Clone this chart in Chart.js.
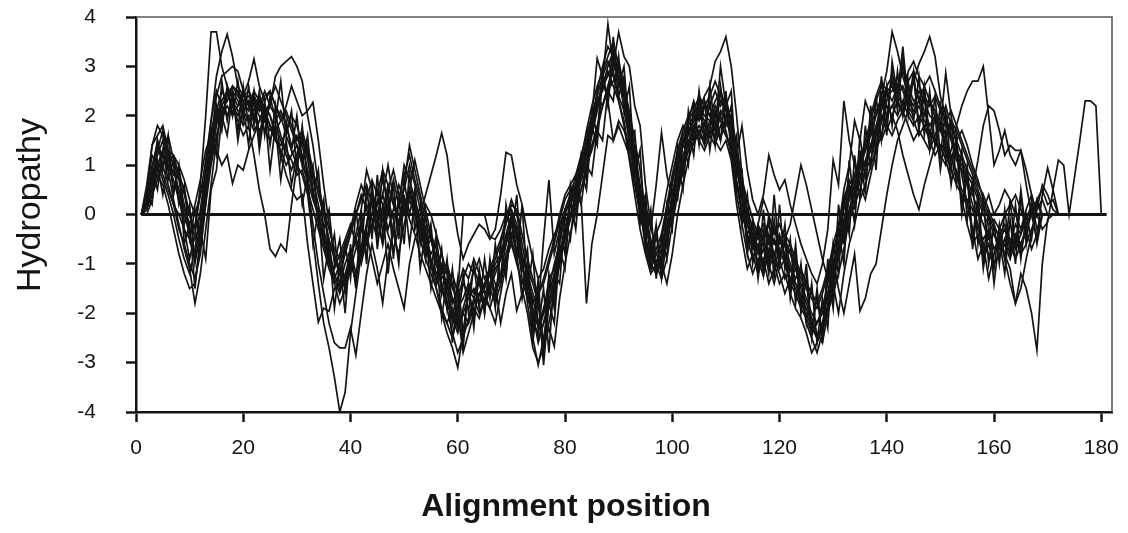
<!DOCTYPE html>
<html>
<head>
<meta charset="utf-8">
<script src="https://cdn.jsdelivr.net/npm/chart.js@4.4.1/dist/chart.umd.min.js"></script>
<style>
  html, body { margin: 0; padding: 0; background: #fff; }
  #wrap { width: 1128px; height: 533px; }
</style>
</head>
<body>
<div id="wrap"><canvas id="chart" width="1128" height="533"></canvas></div>
<script>
// ── Hydropathy profiles, one value per alignment position (from 1) ──
const hydA = [
  0, 0.4, 1.4, 1.6, 1.8, 1.3, 1.0, 0.4, -0.3, -0.9,
  -0.4, 0.6, 2.0, 3.7, 3.7, 3.0, 2.6, 2.4, 2.5, 2.1,
  2.3, 2.0, 1.7, 1.9, 2.2, 2.8, 3.0, 3.1, 3.2, 3.0,
  2.7, 2.0, 1.4, 0.6, 0.1, -0.6, -1.3, -1.6, -1.2, -0.8,
  -0.5, -0.9, -0.3, 0.4, 0.0, -0.6, 0.1, 0.7, 0.2, 0.5,
  1.0, 0.6, 0.1, -0.4, -0.9, -1.2, -1.0, -1.6, -2.0, -2.3,
  -1.9, -1.5, -1.7, -1.3, -1.6, -1.9, -1.5, -1.2, -0.6, -0.2,
  -0.4, -1.0, -1.5, -2.2, -2.4, -2.0, -1.3, -1.1, -0.5, 0.1,
  0.3, 0.5, 0.9, 1.4, 1.9, 2.5, 3.0, 3.4, 3.2, 2.7,
  2.2, 1.7, 1.0, 0.3, -0.6, -1.0, -1.2, -0.8, 0.0, 0.6,
  1.2, 1.6, 1.9, 2.3, 2.0, 1.8, 2.2, 2.5, 2.2, 2.4,
  1.8, 1.0, 0.3, -0.5, -0.9, -0.6, -1.0, -0.4, -0.8, -1.1,
  -0.9, -1.3, -1.5, -1.8, -2.0, -2.3, -2.5, -2.2, -1.6, -1.1,
  -0.7, 0.2, 0.6, 0.4, 0.9, 1.3, 1.6, 2.0, 2.4, 2.9,
  3.7, 3.3, 2.8, 2.4, 2.2, 2.5, 2.3, 2.0, 1.9, 1.7,
  1.9, 1.5, 1.1, 0.9, 0.6, 0.2, -0.2, -0.6, -0.8, -1.0,
  -0.8, -0.6, -0.9, -0.5, -0.7, -0.3, 0.0, 0.3, 0.5, 0.2,
  0.3, 0
];
const hydB = [
  0, 0.2, 0.6, 1.0, 1.3, 1.6, 1.1, 0.7, 0.2, -0.4,
  -0.8, -0.2, 0.9, 1.9, 2.8, 3.3, 3.65, 3.2, 2.6, 2.4,
  2.5, 2.3, 2.1, 2.4, 2.5, 2.2, 2.0, 1.6, 1.3, 1.0,
  0.8, 0.4, -0.5, -1.4, -2.2, -2.7, -3.3, -4.0, -3.6, -2.4,
  -1.6, -0.8, -0.2, 0.5, -0.1, -0.6, 0.2, -0.4, -0.8, -0.2,
  0.3, 0.0, -0.5, -0.9, -1.2, -1.5, -1.9, -2.2, -2.5, -2.0,
  -1.4, -1.6, -1.1, -1.4, -1.8, -1.4, -1.0, -0.8, -0.4, 0.0,
  -0.3, -0.9, -1.8, -2.5, -3.05, -2.5, -1.8, -1.3, -0.8, -0.3,
  0.2, 0.5, 0.8, 1.2, 1.7, 2.2, 2.7, 3.86, 3.0, 2.8,
  2.4, 1.8, 1.1, 0.5, -0.2, -0.7, -1.0, -0.5, 0.1, 0.7,
  1.1, 1.5, 1.8, 2.0, 1.6, 1.5, 1.8, 2.1, 1.9, 1.6,
  1.3, 0.6, 0.0, -0.4, -0.7, -0.2, -0.5, -0.1, -0.3, -0.6,
  -0.5, -0.8, -1.1, -1.5, -1.8, -2.1, -2.4, -2.6, -2.0, -1.3,
  -0.8, -0.3, 0.1, 0.5, 0.8, 1.0, 1.4, 1.7, 2.1, 2.5,
  2.6, 2.3, 2.1, 2.5, 2.7, 3.05, 3.3, 3.6, 3.2, 2.4,
  2.0, 1.6, 1.2, 1.0, 0.7, 0.4, 0.1, -0.2, -0.5, -0.4,
  -0.6, -0.8, -1.1, -1.8, -1.5, -0.9, -0.4, 0.1, 0.6, 0.4,
  0.1, 0
];
const hydC = [
  0, 0.3, 1.0, 1.4, 1.2, 0.9, 0.9, 0.5, 0.1, -0.2,
  0.2, 0.7, 1.3, 1.6, 1.9, 2.1, 2.0, 2.2, 1.9, 1.6,
  1.8, 1.2, 0.5, 0.0, -0.7, -0.85, -0.6, -0.75, 0.2, 1.0,
  1.5, 1.2, 0.8, 0.5, 0.1, -0.3, -0.7, -0.9, -0.6, -0.3,
  0.0, 0.3, 0.6, 0.2, -0.2, 0.1, 0.6, 0.2, 0.0, 0.0,
  0.0, 0.0, 0.0, 0.4, 0.8, 1.2, 1.65, 1.2, 0.3, -0.4,
  -0.9, -0.6, -0.4, -0.2, -0.3, -0.5, -0.3, 0.4, 1.26, 1.2,
  0.6, 0.2, -0.4, -0.9, -1.3, -1.1, -0.7, -0.4, -0.2, 0.1,
  0.4, 0.6, 0.3, -1.8, -0.6, 0.0, 0.8, 1.6, 1.5, 1.9,
  1.7, 1.4, 0.9, 0.5, 0.2, -0.3, 0.6, 1.66, 0.8, 0.3,
  0.9, 1.4, 1.7, 1.9, 2.2, 2.0, 1.9, 1.7, 2.1, 1.9,
  1.6, 1.2, 1.8, 0.9, 0.3, 0.0, 0.4, 1.2, 0.8, 0.5,
  0.7, 0.2, -0.2, -0.6, -0.9, -1.2, -1.4, -1.0, -0.3, 1.1,
  0.6, 2.3, 1.5, 1.0, 0.6, 0.3, 0.8, 1.3, 1.9, 2.2,
  2.0, 1.7, 1.2, 0.8, 0.4, 0.1, 0.6, 1.0, 1.4, 1.8,
  1.3, 0.9, 0.6, 0.4, 0.2, 0.5, 1.1, 1.8, 2.2, 2.1,
  1.7, 1.2, 1.4, 1.3, 1.3, 0.6, 0.0, -0.5, 0.4, 0.95,
  0.5, 1.1, 1.0, 0.0, 0.75, 1.5, 2.3, 2.3, 2.2, 0.0
];
const hydD = [
  0, 0.2, 0.5, 0.8, 0.6, 0.2, -0.3, -0.8, -1.2, -1.5,
  -1.4, -0.6, 0.4, 1.2, 1.9, 2.3, 2.5, 2.4, 2.2, 2.3,
  2.1, 2.4, 2.2, 1.9, 1.7, 1.9, 2.1, 1.8, 1.4, 1.6,
  1.2, 0.6, -0.2, -1.0, -1.6, -2.2, -2.6, -2.7, -2.7, -2.3,
  -2.85, -2.0, -1.2, -0.6, -1.1, -1.8, -0.9, -0.3, 0.3, 0.8,
  1.2, 0.7, 0.3, -0.4, -1.0, -1.5, -2.0, -2.4, -2.7, -3.1,
  -2.4, -2.2, -1.9, -2.1, -1.7, -1.9, -2.2, -1.6, -1.0, -0.5,
  -0.9, -1.5, -2.0, -2.7, -3.0, -2.7, -2.2, -1.6, -1.0, -0.5,
  -0.1, 0.3, 0.7, 1.1, 1.6, 2.1, 2.6, 3.0, 3.3, 3.1,
  2.6, 2.0, 1.3, 0.6, -0.1, -0.6, -1.0, -1.3, -0.9, -0.2,
  0.4, 0.9, 1.3, 1.6, 1.8, 1.6, 1.9, 2.2, 2.0, 1.7,
  1.2, 0.4, -0.2, -0.8, -1.2, -0.9, -1.25, -0.7, -1.0, -1.4,
  -1.2, -1.6, -1.9, -2.1, -2.4, -2.8, -2.6, -2.3, -1.9, -1.4,
  -2.0, -1.2, -0.6, -0.2, 0.3, 0.6, 1.0, 1.3, 1.6, 2.0,
  2.2, 2.4, 2.6, 2.3, 2.1, 2.3, 2.6, 2.3, 2.0, 1.8,
  2.87, 2.0, 1.4, 0.8, 0.2, -0.3, -0.9, -0.6, -1.3, -0.8,
  -0.4, -0.9, -1.4, -1.8, -1.2, -1.5, -2.0, -2.75, -1.0, -0.1,
  0
];
const hydE = [
  0, 0.5, 1.2, 1.0, 0.7, 0.4, 0.0, -0.5, -0.9, -1.2,
  -0.7, 0.1, 0.9, 1.7, 2.1, 2.5, 2.3, 2.6, 2.4, 2.2,
  2.3, 2.1, 2.4, 2.0, 2.3, 2.6, 2.3, 2.0, 1.7, 1.4,
  1.1, 1.4, 0.9, 0.4, 0.0, -0.5, -0.9, -1.2, -1.5, -1.1,
  -0.7, -0.3, 0.2, -0.1, -0.5, -0.1, 0.5, 0.9, 0.4, 0.0,
  0.4, 0.2, -0.3, -0.7, -0.5, -0.9, -1.3, -1.1, -1.5, -1.7,
  -1.3, -1.0, -1.2, -0.9, -1.3, -1.1, -0.8, -0.5, -0.1, 0.3,
  0.0, -0.6, -1.2, -1.6, -1.9, -0.5, 0.7, -0.8, -0.3, 0.1,
  0.4, 0.6, 0.9, 1.3, 1.8, 2.3, 2.5, 2.9, 2.6, 2.3,
  1.9, 1.2, 0.6, 0.0, -0.5, -0.9, -0.7, -0.4, 0.2, 0.8,
  1.3, 1.7, 2.0, 2.2, 1.9, 2.3, 2.0, 1.8, 1.5, 2.0,
  1.7, 1.0, 0.5, -0.1, -0.4, -0.8, -0.5, -0.2, -0.6, -0.4,
  -0.9, -0.7, -1.0, -1.3, -1.5, -1.7, -1.9, -1.6, -1.2, -0.6,
  -0.2, 0.3, 0.7, 0.5, 1.0, 1.4, 1.8, 2.1, 2.3, 2.0,
  2.2, 2.0, 2.3, 2.0, 1.8, 2.0, 1.8, 1.6, 1.5, 1.3,
  1.5, 1.2, 0.8, 0.5, 0.3, 0.1, -0.3, -0.5, -0.3, -0.7,
  -0.5, -0.3, -0.6, -0.2, -0.4, -0.1, 0.2, 0.1, 0.3, 0.0
];
const hydF = [
  0, 0.3, 0.7, 1.3, 1.7, 1.2, 0.8, 0.9, 0.4, 0.0,
  -0.5, -0.2, 0.6, 1.5, 2.4, 2.8, 2.9, 3.0, 2.9, 2.5,
  2.2, 2.5, 2.3, 2.2, 2.0, 1.7, 1.9, 2.2, 2.6, 2.3,
  2.0, 2.1, 2.27, 1.5, 0.6, -0.2, -0.8, -1.1, -1.4, -0.9,
  -0.4, 0.1, 0.9, 0.5, 0.0, 0.4, 1.0, 0.3, -0.2, 0.6,
  1.4, 0.9, 0.4, -0.1, -0.5, -1.0, -1.4, -1.8, -2.1, -2.4,
  -2.0, -1.7, -1.5, -1.8, -1.4, -1.2, -1.6, -1.3, -0.8, -0.4,
  -0.7, -1.1, -1.4, -1.7, -2.2, -2.0, -1.6, -1.2, -0.7, -0.4,
  0.0, 0.2, 0.5, 0.9, 1.4, 1.8, 2.2, 2.6, 3.0, 3.69,
  3.2, 3.0, 2.2, 1.8, 0.6, -0.2, -0.8, -1.0, -0.6, 0.1,
  0.7, 1.1, 1.4, 1.7, 2.1, 2.4, 2.6, 3.1, 3.3, 3.6,
  3.0, 2.0, 0.8, 0.0, -0.5, -0.3, -0.6, -1.0, -1.4, -0.9,
  -0.6, -1.0, -1.3, -1.1, -1.4, -1.6, -1.8, -2.0, -1.7, -1.3,
  -0.9, -0.4, 0.0, 0.4, 0.7, 1.1, 1.4, 1.8, 2.2, 2.6,
  2.8, 2.6, 3.0, 2.7, 2.9, 2.6, 2.4, 2.2, 2.4, 2.1,
  1.8, 1.6, 1.3, 1.1, 0.8, 0.6, 0.3, 0.0, -0.2, -0.1,
  -0.3, 0.0, 0.2, 0.4, 0.1, -0.2, 0.0, 0.2, 0.0, 0.0
];
const hydG = [
  0, 0.2, 0.4, 0.9, 1.2, 1.1, 1.2, 1.0, 0.7, 0.3,
  0.0, 0.4, 0.8, 1.4, 1.3, 1.0, 1.2, 0.63, 1.0, 0.9,
  1.3, 1.6, 1.9, 2.2, 2.0, 1.6, 1.2, 0.8, 0.5, 0.3,
  0.4, -0.6, -1.4, -2.18, -1.9, -1.96, -1.5, -1.4, -1.0, -0.7,
  -1.2, -0.8, -0.4, -0.9, -1.4, -1.0, -0.6, -1.1, -1.5, -1.9,
  -1.0, -0.5, -0.2, 0.2, 0.0, -0.4, -0.8, -1.2, -1.7, -2.0,
  -2.8, -2.4, -2.0, -1.6, -1.4, -1.1, -1.4, -2.2, -1.6, -1.2,
  -1.95, -1.6, -1.3, -1.9, -2.3, -1.9, -1.5, -1.0, -0.6, 0.0,
  0.3, 0.8, 1.2, 1.6, 2.0, 2.4, 2.2, 2.6, 2.9, 2.3,
  1.8, 1.1, 0.4, -0.3, -0.8, -1.2, -1.0, -0.7, -0.3, 0.3,
  0.8, 1.2, 1.5, 1.4, 1.7, 1.5, 1.8, 1.5, 1.3, 1.5,
  1.1, 0.2, -0.5, -1.1, -0.8, -1.2, -0.9, -1.4, -1.1, -0.7,
  -1.0, -1.4, -1.6, -1.9, -2.1, -2.4, -2.2, -1.9, -1.4, -0.9,
  -1.5, -2.0, -1.4, -0.8, -1.95, -1.7, -1.2, -1.0, -0.3, 0.4,
  1.0, 1.5, 1.8, 2.1, 1.9, 1.6, 1.8, 1.5, 1.2, 1.4,
  1.1, 0.7, 0.9, 0.3, -0.2, -0.6, -0.4, -0.9, -0.6, -1.0,
  -0.8, -0.5, -0.8, -0.4, -0.6, -0.3, -0.7, -0.4, 0.0, 0.0
];
const hydH = [
  0, 0.4, 0.9, 1.5, 1.0, 0.6, 0.2, -0.3, -0.6, -1.0,
  -1.3, -0.8, 0.2, 1.0, 1.6, 2.0, 2.2, 2.0, 2.2, 2.5,
  2.2, 1.9, 2.2, 2.5, 2.2, 2.0, 1.6, 1.3, 1.1, 0.8,
  0.9, 0.5, 0.1, -0.3, -0.7, -1.1, -1.4, -1.2, -0.8, -0.4,
  0.0, 0.4, 0.1, -0.3, 0.2, 0.7, 0.3, -0.1, 0.2, 1.0,
  0.7, 0.3, -0.1, -0.5, -0.8, -0.6, -1.1, -1.4, -1.2, -1.6,
  0.0, 0.0, 0.0, 0.0, 0.0, -0.46, -0.5, -0.3, 0.0, 0.1,
  -0.2, -0.8, -1.3, -1.8, -1.6, -1.3, -0.9, -0.5, 0.0, 0.4,
  0.6, 0.8, 1.0, 1.5, 1.9, 2.4, 2.8, 3.1, 2.8, 2.4,
  2.1, 1.5, 0.7, 0.1, -0.3, -0.6, -0.4, -0.1, 0.5, 1.0,
  1.5, 1.8, 1.6, 1.9, 2.1, 1.9, 1.6, 2.0, 2.3, 2.1,
  1.5, 0.9, 0.4, -0.2, -0.6, -0.2, 0.3, 0.0, -0.4, -0.2,
  -0.5, -0.2, 0.4, 1.0, 0.6, 0.1, -0.4, -0.9, -1.3, -0.8,
  -0.3, 0.5, 1.0, 1.9, 1.5, 2.3, 2.0, 2.4, 2.7, 2.5,
  2.3, 2.6, 2.9, 2.6, 2.3, 2.4, 2.1, 1.8, 2.0, 1.7,
  1.4, 1.1, 1.5, 1.2, 0.9, 0.7, 0.4, 0.1, 0.4, 0.0,
  0.2, 0.5, 0.3, 0.0, -0.3, 0.1, 0.4, 0.0, 0.0, 0.0
];
const hydI = [
  0, 0.1, 0.4, 0.7, 1.0, 1.3, 1.2, 0.8, 0.5, 0.0,
  -0.3, 0.0, 0.5, 1.3, 2.0, 2.3, 2.5, 2.2, 2.0, 2.4,
  2.7, 3.15, 2.6, 2.3, 2.5, 2.2, 1.9, 2.1, 1.8, 1.5,
  1.7, 1.3, 0.7, 0.2, -0.3, -0.8, -1.2, -1.5, -1.3, -0.9,
  -0.5, -0.2, -0.6, -0.2, 0.3, 0.0, -0.4, -0.7, -0.3, 0.2,
  0.5, 0.2, -0.2, -0.6, -0.4, -0.7, -1.2, -1.0, -1.4, -1.9,
  -1.7, -1.4, -1.6, -1.3, -1.6, -1.4, -1.1, -0.9, -0.6, -0.2,
  -0.5, -1.3, -1.7, -2.0, -2.6, -2.2, -1.7, -1.4, -0.9, -0.4,
  0.0, 0.4, 0.8, 1.3, 2.0, 3.16, 2.8, 2.3, 1.49, 1.8,
  1.5, 1.2, 0.6, 0.2, -0.4, -1.0, -1.2, -0.9, -0.4, 0.2,
  0.6, 1.0, 1.5, 1.7, 1.5, 1.3, 1.6, 1.4, 1.8, 1.6,
  1.4, 0.7, 0.1, -0.4, -0.2, -0.5, -0.3, -0.6, -0.3, -0.5,
  -0.4, -0.6, -0.9, -1.2, -1.4, -1.6, -1.8, -1.5, -1.1, -0.7,
  -0.4, 0.1, 0.4, 0.8, 1.2, 1.0, 1.3, 1.7, 1.5, 1.8,
  1.6, 1.9, 2.1, 1.8, 1.5, 1.7, 1.5, 1.3, 1.6, 1.9,
  2.2, 1.8, 1.5, 1.7, 1.4, 1.0, 0.7, 0.3, 0.0, -0.3,
  -0.4, -0.2, -0.5, -0.7, -0.4, 0.0, 0.0, 0.0, 0.0, 0.0
];
const hydJ = [
  0, 0.3, 0.8, 1.2, 1.5, 0.9, 0.3, -0.2, -0.7, -1.1,
  -1.8, -1.2, -0.3, 0.6, 1.5, 2.1, 2.3, 2.5, 2.3, 2.1,
  1.9, 2.0, 2.3, 2.1, 1.8, 1.5, 1.3, 1.0, 1.2, 1.4,
  1.0, 0.7, 0.3, 0.0, -0.4, -0.9, -1.1, -0.8, -0.5, -0.2,
  -0.6, -1.0, -0.5, 0.0, 0.5, 0.2, -0.3, 0.1, 0.6, 0.3,
  -0.1, -0.4, -0.8, -1.1, -1.4, -1.7, -2.0, -2.2, -1.9, -2.2,
  -2.0, -2.2, -1.8, -1.6, -1.9, -1.5, -1.8, -1.4, -0.9, -0.6,
  -1.0, -1.4, -1.1, -1.4, -1.8, -2.67, -2.3, -2.67, -1.7, -1.0,
  -0.4, 0.1, 0.5, 1.0, 1.3, 1.7, 2.2, 2.5, 2.7, 3.0,
  2.6, 2.1, 1.5, 0.9, 0.0, -0.5, -1.2, -1.0, -1.4, -0.8,
  0.0, 0.6, 1.1, 1.5, 1.7, 1.4, 1.7, 1.6, 2.0, 2.3,
  1.9, 1.2, 0.6, 0.1, -0.3, -0.7, -1.1, -0.8, -0.5, -0.9,
  -1.3, -1.1, -1.4, -1.7, -1.9, -2.2, -2.5, -2.3, -2.0, -1.6,
  -1.2, -0.7, -0.1, 0.2, 0.5, 0.9, 1.1, 1.6, 2.0, 1.7,
  2.0, 2.3, 2.0, 2.4, 2.7, 2.3, 2.0, 2.3, 2.1, 1.9,
  1.6, 1.9, 1.7, 1.4, 1.1, 0.8, 0.5, 0.2, -0.1, -0.4,
  -0.7, -0.5, -0.2, -0.5, -0.8, -0.6, -0.3, 0.0, 0.0, 0.0
];
const hydK = [
  0, 0.2, 0.6, 1.1, 0.8, 0.5, 0.2, 0.0, -0.3, -0.5,
  -0.9, -0.5, 0.3, 1.1, 1.8, 2.2, 2.4, 2.6, 2.5, 2.3,
  2.4, 2.2, 2.0, 1.7, 1.5, 1.8, 1.5, 1.2, 0.9, 1.2,
  1.6, 1.1, 0.5, 0.0, -0.5, -0.9, -1.4, -1.8, -1.5, -1.0,
  -1.3, -0.7, -0.2, 0.3, 0.0, 0.4, 0.0, 0.0, 0.0, 0.0,
  0.5, 1.1, 0.6, 0.1, -0.4, -0.9, -1.5, -1.9, -2.4, -2.8,
  -2.5, -2.1, -1.7, -2.0, -1.7, -1.5, -1.2, -0.9, -0.5, 0.0,
  -0.4, -1.0, -1.6, -2.1, -2.5, -2.2, -1.9, -1.5, -1.0, -0.3,
  0.2, 0.6, 1.0, 1.3, 1.7, 2.2, 2.6, 2.8, 3.1, 2.9,
  2.4, 1.7, 0.9, 0.2, -0.7, -1.1, -0.8, -0.6, -0.2, 0.4,
  1.0, 1.4, 1.9, 2.1, 2.4, 2.2, 2.0, 2.3, 2.5, 2.2,
  1.7, 1.1, 0.5, -0.2, -0.6, -1.0, -0.7, -1.1, -0.8, -0.5,
  -0.8, -1.1, -1.4, -1.6, -2.2, -2.5, -2.8, -2.4, -1.8, -1.2,
  -0.6, -0.1, 0.4, 0.7, 1.1, 1.5, 1.9, 2.3, 2.6, 2.4,
  2.5, 2.8, 2.5, 2.2, 2.0, 2.2, 1.9, 1.7, 1.5, 1.2,
  1.0, 1.3, 1.8, 2.2, 2.5, 2.7, 2.7, 3.0, 2.0, 1.0,
  1.3, 1.7, 1.2, 1.0, 1.3, 0.9, 0.4, 0.0, -0.3, -0.15,
  0.5, 0
];
const hydL = [
  0, 0.6, 1.4, 1.8, 1.6, 1.0, 0.7, 0.3, 0.0, -0.4,
  -0.2, 0.4, 1.1, 1.9, 2.5, 2.2, 2.0, 2.3, 2.1, 1.8,
  2.0, 1.7, 1.9, 2.1, 1.8, 1.5, 1.4, 1.7, 2.0, 1.8,
  1.4, 0.9, 0.4, -0.1, -0.6, -1.0, -1.3, -1.0, -0.7, -0.3,
  0.2, 0.6, 0.3, 0.7, 0.4, 0.9, 0.6, 0.2, -0.2, 0.1,
  0.4, 0.1, -0.4, -0.7, -1.0, -1.3, -1.6, -1.4, -1.8, -1.5,
  -1.1, -1.3, -0.9, -1.2, -1.5, -1.2, -0.9, -0.6, -0.2, 0.2,
  0.1, -0.4, -0.9, -1.3, -1.6, -1.4, -1.0, -0.6, -0.1, 0.3,
  0.5, 0.7, 1.1, 1.7, 2.2, 2.6, 2.9, 3.2, 3.5, 3.0,
  2.5, 1.9, 1.2, 0.4, -0.2, -0.7, -1.1, -0.9, -0.5, 0.0,
  0.5, 1.0, 1.3, 1.8, 2.0, 2.2, 2.4, 2.7, 2.4, 2.1,
  2.0, 1.4, 0.7, 0.3, -0.1, -0.4, -0.2, -0.5, -0.9, -1.2,
  -1.6, -1.3, -1.1, -1.4, -1.7, -2.0, -2.2, -2.0, -1.6, -1.0,
  -0.6, -0.2, 0.3, 0.6, 1.0, 1.3, 1.7, 1.4, 1.9, 2.3,
  2.7, 2.4, 2.2, 2.9, 3.1, 2.8, 2.6, 2.8, 2.5, 2.2,
  1.9, 2.1, 1.8, 1.5, 1.2, 0.9, 0.6, 0.4, 0.1, -0.2,
  -0.5, -0.3, -0.6, -0.9, -0.6, -0.3, 0.0, 0.0, 0.0, 0.0
];
const hydM = [
  0, 0.1, 0.9, 0.5, 1.3, 0.7, 1.1, 0.2, 0.6, -0.5,
  0.1, -0.6, 0.7, 1.2, 2.2, 1.7, 2.6, 2.0, 2.7, 1.9,
  2.6, 1.8, 2.5, 1.6, 2.4, 1.9, 2.7, 1.6, 2.1, 0.9,
  1.8, 0.6, 1.0, -0.2, 0.3, -0.9, -0.4, -1.5, -0.6, -1.3,
  0.1, -0.8, 0.6, -0.5, 0.8, -0.4, 0.5, -0.9, 0.3, -0.6,
  0.9, -0.3, 0.2, -0.9, -0.2, -1.4, -0.7, -1.9, -1.1, -2.3,
  -1.2, -2.0, -1.0, -1.9, -0.9, -1.7, -0.6, -1.4, 0.2, -0.5,
  0.4, -1.1, -0.7, -2.4, -1.3, -2.9, -1.2, -1.9, -0.2, -0.8,
  0.6, 0.0, 1.2, 0.7, 2.1, 1.6, 2.9, 2.2, 3.3, 2.4,
  2.8, 1.3, 1.4, -0.2, 0.3, -1.1, -0.4, -1.2, 0.2, -0.3,
  1.4, 0.8, 2.1, 1.5, 2.5, 1.6, 2.3, 1.4, 2.6, 1.8,
  2.2, 0.5, 0.6, -0.8, -0.1, -1.2, 0.1, -1.0, 0.4, -0.9,
  -0.2, -1.5, -0.6, -1.9, -1.0, -2.4, -1.5, -2.6, -0.9, -1.7,
  0.2, -0.6, 1.1, 0.1, 1.6, 0.7, 2.2, 1.2, 2.8, 1.9,
  2.9, 2.1, 3.2, 2.0, 2.8, 1.7, 2.6, 1.5, 2.4, 1.2,
  2.1, 0.9, 1.6, 0.2, 1.0, -0.5, 0.4, -0.9, 0.1, -1.1,
  -0.2, -0.9, 0.3, -0.7, 0.5, -0.4, 0.2, -0.6, 0.0, 0
];
const hydN = [
  0, 0.0, 0.3, 1.0, 0.4, 1.2, 0.5, 0.9, -0.2, 0.2,
  -1.0, -0.3, -0.9, 0.5, 0.9, 2.0, 1.6, 2.4, 1.7, 2.6,
  1.8, 2.5, 1.5, 2.3, 1.4, 2.2, 1.1, 1.9, 1.3, 2.0,
  1.0, 1.6, 0.4, 0.9, -0.3, 0.1, -1.0, -0.5, -1.6, -0.9,
  -1.4, -0.2, -0.9, 0.4, -0.4, 0.9, 0.0, 0.6, -0.5, 0.7,
  0.0, 0.5, -0.6, 0.0, -1.1, -0.4, -1.6, -0.9, -2.2, -1.3,
  -2.4, -1.5, -2.1, -1.2, -2.0, -0.9, -1.8, -0.7, -1.2, -0.1,
  -0.9, 0.2, -1.5, -0.8, -2.3, -1.5, -2.8, -1.2, -1.4, 0.0,
  -0.5, 0.5, 0.2, 1.0, 0.8, 1.7, 1.5, 2.5, 2.3, 3.2,
  2.1, 2.6, 0.8, 1.3, -0.5, 0.1, -1.3, -0.4, -0.9, 0.5,
  0.3, 1.5, 1.0, 2.2, 1.4, 2.3, 1.3, 2.1, 1.5, 2.5,
  1.2, 1.6, -0.2, 0.4, -1.0, -0.3, -1.2, 0.0, -1.3, 0.2,
  -1.1, -0.5, -1.8, -1.0, -2.2, -1.4, -2.6, -1.7, -2.3, -0.6,
  -1.2, 0.4, -0.4, 1.2, 0.3, 1.8, 0.9, 2.4, 1.5, 2.6,
  1.8, 2.9, 2.0, 2.7, 1.9, 2.8, 1.6, 2.5, 1.4, 2.2,
  1.1, 1.9, 0.6, 1.3, -0.1, 0.7, -0.6, 0.3, -1.0, -0.2,
  -1.0, 0.1, -0.8, 0.2, -0.9, 0.0, -0.5, 0.3, 0.0, 0
];
const hydO = [
  0, 0.4, 0.2, 1.5, 0.9, 1.6, 0.4, 1.0, -0.6, -0.2,
  -1.5, -0.4, 0.2, 1.6, 1.2, 2.7, 1.9, 2.5, 1.5, 2.2,
  1.4, 2.4, 1.3, 2.1, 0.9, 1.8, 0.7, 1.5, 0.6, 1.2,
  0.2, 0.8, -0.6, 0.1, -1.3, -0.6, -1.9, -1.0, -2.0, -0.6,
  -1.5, 0.1, -1.0, 0.7, -0.7, 0.2, -1.2, -0.2, -1.0, 0.4,
  -0.6, 0.3, -1.1, -0.3, -1.5, -0.8, -2.1, -1.3, -2.6, -1.6,
  -2.7, -1.4, -2.3, -1.1, -2.0, -1.0, -1.9, -0.6, -1.3, 0.1,
  -0.8, -1.7, -1.0, -2.6, -1.6, -3.05, -1.8, -2.2, -0.7, -1.1,
  0.3, -0.3, 0.9, 0.5, 1.8, 1.4, 2.8, 2.3, 3.6, 2.6,
  3.0, 1.6, 1.7, 0.1, 0.4, -0.9, -0.2, -1.3, -0.5, 0.0,
  1.1, 0.5, 1.8, 1.2, 2.4, 1.5, 2.6, 1.7, 3.0, 2.2,
  2.5, 0.8, 0.9, -0.6, -0.2, -1.3, -0.4, -1.2, -0.1, -1.0,
  -0.5, -1.7, -0.8, -2.0, -1.3, -2.5, -1.6, -2.5, -1.1, -1.9,
  -0.3, -1.0, 0.6, -0.2, 1.3, 0.4, 1.9, 0.9, 2.5, 1.6,
  3.1, 2.4, 3.4, 2.2, 2.9, 1.8, 2.4, 1.3, 2.0, 0.9,
  1.7, 0.6, 1.4, 0.0, 0.8, -0.7, 0.2, -1.1, -0.3, -1.4,
  -0.5, -1.2, -0.1, -1.0, 0.4, -0.6, 0.3, -0.3, 0.0, 0
];
const profiles = [hydA, hydB, hydC, hydD, hydE, hydF, hydG, hydH,
                  hydI, hydJ, hydK, hydL, hydM, hydN, hydO];

// zero reference line across the alignment
const baseX = [1, 181];
const baseY = [0, 0];

// ── Axes ──
const xTicks = [0, 20, 40, 60, 80, 100, 120, 140, 160, 180];
const yTicks = [-4, -3, -2, -1, 0, 1, 2, 3, 4];
const xMin = 0, xMax = 182;
const yMin = -4, yMax = 4;
const xTitle = 'Alignment position';
const yTitle = 'Hydropathy';

const FONT = '"Liberation Sans", Arial, Helvetica, sans-serif';
const INK = '#141414';

function toPoints(arr) { return arr.map((v, i) => ({ x: i + 1, y: v })); }

const datasets = profiles.map(p => ({
  data: toPoints(p),
  borderColor: INK, borderWidth: 1.7,
  pointRadius: 0, tension: 0, fill: false
}));
datasets.push({
  data: baseX.map((x, i) => ({ x, y: baseY[i] })),
  borderColor: INK, borderWidth: 3,
  pointRadius: 0, fill: false
});

// thin grey frame on top/right + axis titles placed like the original
const frame = {
  id: 'frame',
  afterDraw(chart) {
    const { ctx, chartArea: a } = chart;
    ctx.save();
    ctx.strokeStyle = '#5a5a5a';
    ctx.lineWidth = 1.6;
    ctx.beginPath();
    ctx.moveTo(a.left, a.top);
    ctx.lineTo(a.right, a.top);
    ctx.lineTo(a.right, a.bottom);
    ctx.stroke();

    ctx.fillStyle = INK;
    ctx.textAlign = 'center';
    ctx.textBaseline = 'middle';
    ctx.font = 'bold 32px ' + FONT;
    ctx.fillText(xTitle, 566, 507);

    ctx.translate(31, 205);
    ctx.rotate(-Math.PI / 2);
    ctx.font = '34px ' + FONT;
    ctx.fillText(yTitle, 0, 0);
    ctx.restore();
  }
};

new Chart(document.getElementById('chart'), {
  type: 'line',
  data: { datasets },
  plugins: [frame],
  options: {
    responsive: false, animation: false,
    layout: { padding: { top: 17, right: 16, left: 0, bottom: 0 } },
    plugins: { legend: { display: false }, tooltip: { enabled: false } },
    scales: {
      x: {
        type: 'linear', min: xMin, max: xMax,
        afterBuildTicks: s => { s.ticks = xTicks.map(v => ({ value: v })); },
        afterFit: s => { s.height = 121; s.paddingLeft = 0; s.paddingRight = 0; },
        border: { color: INK, width: 2.5 },
        grid: { drawOnChartArea: false, drawTicks: true, tickLength: 10, tickColor: INK, tickWidth: 2.5 },
        ticks: { color: INK, font: { family: FONT, size: 21 }, padding: 14, maxRotation: 0 }
      },
      y: {
        min: yMin, max: yMax,
        afterBuildTicks: s => { s.ticks = yTicks.map(v => ({ value: v })); },
        afterFit: s => { s.width = 136; s.paddingTop = 0; s.paddingBottom = 0; },
        border: { color: INK, width: 2.5 },
        grid: { drawOnChartArea: false, drawTicks: true, tickLength: 10, tickColor: INK, tickWidth: 2.5 },
        ticks: { color: INK, font: { family: FONT, size: 21 }, padding: 30 }
      }
    }
  }
});
</script>
</body>
</html>
